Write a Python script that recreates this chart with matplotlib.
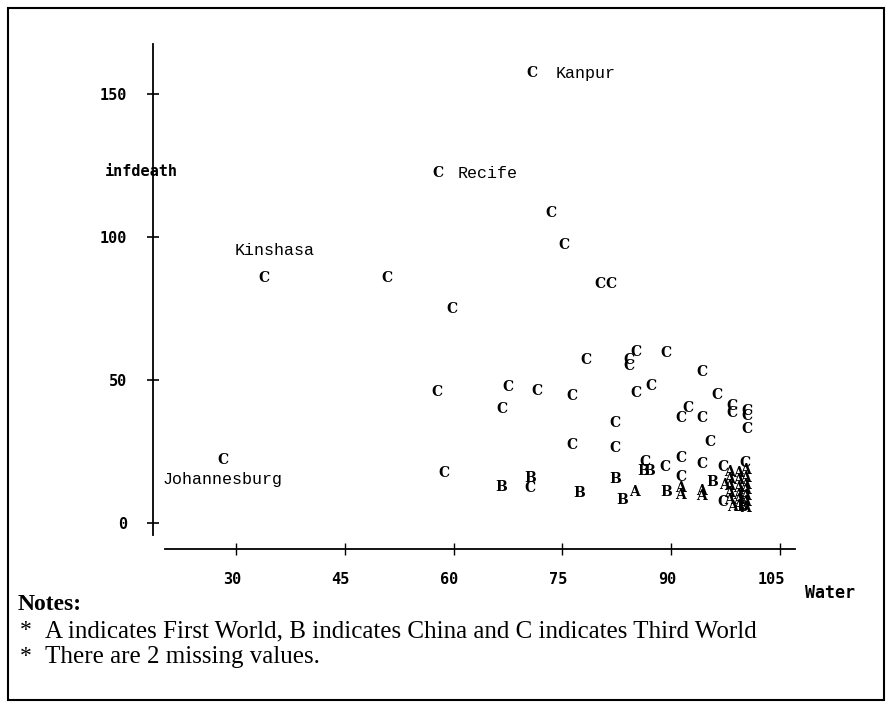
import matplotlib
matplotlib.use('Agg')
import matplotlib.pyplot as plt
from matplotlib.patches import Rectangle
from matplotlib.transforms import blended_transform_factory, offset_copy

# Third World (C)
water_c = [70.8, 57.9, 33.8, 28.2, 73.4, 75.2, 80.2, 81.7, 50.8, 59.8,
           57.7, 58.6, 67.5, 66.6, 71.5, 76.3, 78.3, 76.3, 82.3, 82.3,
           85.1, 84.2, 84.2, 89.3, 94.2, 85.1, 87.2, 96.3, 92.3, 91.3,
           94.2, 98.4, 98.4, 100.4, 100.4, 100.4, 95.4, 86.4, 89.2, 91.3,
           94.2, 91.3, 70.5, 97.2, 97.2, 100.2]
infdeath_c = [157.3, 122.4, 85.7, 22.1, 108.4, 97.3, 83.6, 83.6, 85.7, 75.0,
              46.0, 17.7, 47.8, 40.0, 46.3, 44.5, 57.1, 27.4, 35.0, 26.2,
              60.0, 57.1, 55.0, 59.7, 53.0, 45.5, 48.1, 44.9, 40.4, 36.7,
              36.7, 41.1, 38.6, 39.3, 37.5, 32.9, 28.3, 21.5, 19.6, 22.9,
              20.6, 16.3, 12.2, 19.8, 7.6, 21.0]

# China (B)
water_b = [66.6, 70.5, 77.3, 82.3, 83.2, 86.1, 87.0, 89.3, 95.6, 99.8]
infdeath_b = [12.8, 15.7, 10.5, 15.4, 8.1, 18.3, 18.3, 10.8, 14.5, 5.8]

# First World (A)
water_a = [85.0, 91.3, 91.3, 94.2, 94.2, 97.3, 98.1, 98.1, 98.1, 98.1,
           98.1, 98.4, 99.3, 99.3, 99.3, 99.3, 99.3, 99.3, 100.2, 100.2,
           100.2, 100.2, 100.2, 100.2, 100.2]
infdeath_a = [10.8, 12.3, 9.9, 11.3, 9.5, 13.5, 18.0, 15.5, 13.0, 10.5,
              8.0, 5.8, 17.5, 15.0, 12.5, 10.0, 8.0, 6.0, 18.5, 16.0,
              13.5, 11.5, 9.5, 7.5, 5.5]

# labelled cities
city_names = ['Kanpur', 'Recife', 'Kinshasa', 'Johannesburg']
city_water = [70.8, 57.9, 33.8, 28.2]
city_infdeath = [157.3, 122.4, 85.7, 22.1]

xticks = [30, 45, 60, 75, 90, 105]
yticks = [0, 50, 100, 150]

notes = ['A indicates First World, B indicates China and C indicates Third World',
         'There are 2 missing values.']

W, H = 891, 709
fig = plt.figure(figsize=(W / 100, H / 100), dpi=100)

# axes box in pixels: x 165..795, y 44..535
ax = fig.add_axes([165 / W, 1 - 535 / H, 630 / W, 491 / H])
ax.set_xlim(20.21, 107.07)
ax.set_ylim(-4.1, 167.6)
ax.patch.set_visible(False)
for s in ['top', 'right']:
    ax.spines[s].set_visible(False)
ax.spines['left'].set_position(('outward', 9))
ax.spines['bottom'].set_position(('outward', 10))
ax.spines['left'].set_linewidth(1.3)
ax.spines['bottom'].set_linewidth(1.3)

tickfont = dict(family='DejaVu Sans Mono', weight='bold', size=11)
ax.set_yticks(yticks)
ax.set_yticklabels([str(t) for t in yticks], fontdict=tickfont)
ax.tick_params(axis='y', direction='inout', length=9, width=1.2, pad=14)
ax.set_xticks(xticks)
ax.set_xticklabels([])
ax.tick_params(axis='x', direction='inout', length=9, width=1.0)

# x tick labels sit just left of their ticks, like the original
trans = offset_copy(blended_transform_factory(ax.transData, ax.transAxes),
                    fig=fig, x=5, y=0, units='dots')
for t in xticks:
    ax.text(t, -0.09, str(t), transform=trans, ha='right', va='center',
            fontdict=tickfont)

markfont = dict(family='DejaVu Serif', weight='bold', size=10)
for x, y in zip(water_c, infdeath_c):
    ax.text(x, y, 'C', ha='center', va='center', fontdict=markfont)
for x, y in zip(water_b, infdeath_b):
    ax.text(x, y, 'B', ha='center', va='center', fontdict=markfont)
for x, y in zip(water_a, infdeath_a):
    ax.text(x, y, 'A', ha='center', va='center', fontdict=markfont)

offsets = {'Kanpur': ((17, 0), 'left'), 'Recife': ((14, 0), 'left'),
           'Kinshasa': ((8, 20), 'center'), 'Johannesburg': ((0, -14), 'center')}
for name, x, y in zip(city_names, city_water, city_infdeath):
    off, ha = offsets[name]
    ax.annotate(name, (x, y), xytext=off, textcoords='offset points',
                ha=ha, va='center', family='Liberation Mono', size=12)

fig.text(105 / W, 1 - 171 / H, 'infdeath', ha='left', va='center', fontdict=tickfont)
fig.text(805 / W, 1 - 593 / H, 'Water', ha='left', va='center',
         family='DejaVu Sans Mono', weight='bold', size=12)

# notes
fig.text(18 / W, 1 - 604 / H, 'Notes:', family='Liberation Serif', weight='bold',
         size=17, ha='left', va='center')
for i, line in enumerate(notes):
    yy = 1 - (631 + 26 * i) / H
    fig.text(20 / W, yy, '*', family='Liberation Serif', size=17, ha='left', va='center')
    fig.text(45 / W, yy, line, family='Liberation Serif', size=18, ha='left', va='center')

# outer frame
fig.patches.append(Rectangle((8 / W, 1 - 700 / H), 876 / W, 692 / H,
                             transform=fig.transFigure, fill=False,
                             edgecolor='black', linewidth=1.5))

fig.savefig('out.png', dpi=100)
